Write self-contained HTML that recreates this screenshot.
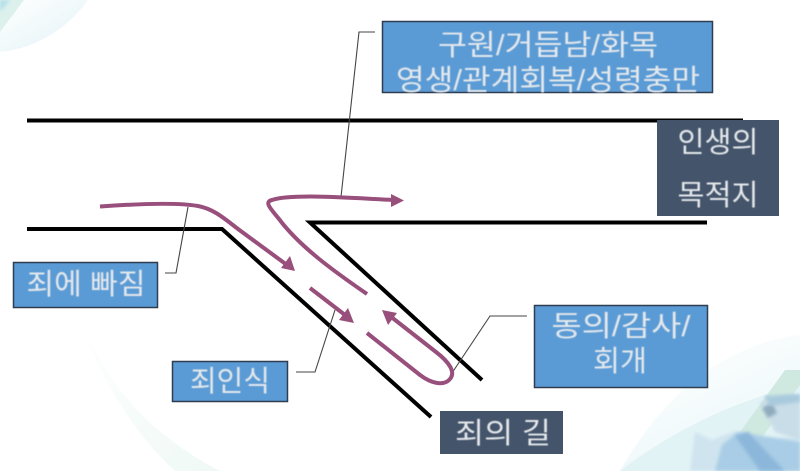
<!DOCTYPE html>
<html lang="ko">
<head>
<meta charset="utf-8">
<style>
html,body{margin:0;padding:0;background:#fff}
svg{display:block}
text{font-family:"Liberation Sans","Noto Sans CJK KR",sans-serif;fill:#e4e8ec;text-anchor:middle;dominant-baseline:central}
</style>
</head>
<body>
<svg width="800" height="471" viewBox="0 0 800 471" xmlns="http://www.w3.org/2000/svg">
<defs>
<linearGradient id="g1" x1="0" y1="0" x2="1" y2="1"><stop offset="0" stop-color="#ffffff"/><stop offset="1" stop-color="#e2f3f6"/></linearGradient>
<linearGradient id="g2" x1="0.2" y1="0" x2="0.8" y2="1"><stop offset="0" stop-color="#ffffff"/><stop offset="0.6" stop-color="#f2fafb"/><stop offset="1" stop-color="#cfeaee"/></linearGradient>
<linearGradient id="g3" x1="0" y1="0" x2="1" y2="1"><stop offset="0" stop-color="#ffffff"/><stop offset="1" stop-color="#e8f6f1"/></linearGradient>
<filter id="b2"><feGaussianBlur stdDeviation="1.500"/></filter>
<filter id="soft"><feGaussianBlur stdDeviation="0.45"/></filter>
</defs>
<rect width="800" height="471" fill="#fff"/>

<!-- background swooshes -->
<path d="M0 52C40 48 70 25 88 0H0Z" fill="url(#g1)"/>
<path d="M0 32L24 0H0Z" fill="#dcf0ec"/>
<path d="M0 12L10 0H0Z" fill="#b5e0ea" filter="url(#b2)"/>
<path d="M80 315C105 390 160 440 220 471H175C130 430 95 370 80 315Z" fill="url(#g3)" opacity=".7"/>
<path d="M620 471C660 400 720 345 800 335V471Z" fill="url(#g2)"/>
<path d="M620 471C680 425 740 400 800 385V471Z" fill="#e2f3f6"/>
<path d="M740 432L785 370H800V385L760 440Z" fill="#cfe8e0"/>
<path d="M690 471L695 432L712 440L735 431L760 440L800 436V471Z" fill="#cfe4ee" filter="url(#b2)"/>
<path d="M760 402L790 395L800 396V440L775 432Z" fill="#c9dde8" filter="url(#b2)"/>
<path d="M762 408L772 403L777 413L768 418Z" fill="#8fabbd" filter="url(#b2)"/>
<path d="M764 396L800 394V402L770 406Z" fill="#a9cadd" filter="url(#b2)"/>
<path d="M722 445L738 432L800 442V471H715Z" fill="#a9cde6" filter="url(#b2)"/>
<path d="M735 436L748 432L785 471H760Z" fill="#8db7da" filter="url(#b2)"/>

<!-- road lines -->
<g fill="none" stroke="#000" stroke-width="4" stroke-linejoin="miter">
<path d="M27 120.500H743"/>
<path d="M27 229H222L431 417"/>
<path d="M707 222.500H310L482 380"/>
</g>

<!-- leader lines -->
<g fill="none" stroke="#444" stroke-width="1.100">
<path d="M341 197L359 32H375"/>
<path d="M188 207L176 273H165"/>
<path d="M335 310L315 372H296"/>
<path d="M450 376L490 316H527"/>
</g>

<!-- boxes -->
<g stroke="#2f3d50" stroke-width="1.500" fill="#5b9bd5">
<rect x="382.500" y="21.500" width="330" height="71"/>
<rect x="13.500" y="262.500" width="144" height="45"/>
<rect x="172.500" y="361.500" width="115" height="40"/>
<rect x="534.500" y="305.500" width="173" height="82"/>
</g>
<rect x="657" y="120" width="122" height="96" fill="#44546a"/>
<rect x="440" y="411" width="123" height="43" fill="#44546a"/>

<!-- purple paths -->
<g fill="none" stroke="#984f7c" stroke-width="4" stroke-linecap="butt">
<path d="M100 206.500C135 204 175 202 198 206C214 209 225 219 238 229L287 265"/>
<path d="M367 294C335 272 300 247 279 219C270 208 264 202 272 200C290 194 340 197 393 200"/>
<path d="M310 288L345 315"/>
<path d="M390 316L436 352C449 362 456 372 450 379C444 386 432 384 420 375L367 333"/>
</g>
<g fill="#984f7c">
<path d="M295 271L281 268L290 256Z"/>
<path d="M404 200.500L391 194V207Z"/>
<path d="M354 323L339 320L348 308Z"/>
<path d="M382 310L397 313L388 325Z"/>
</g>

<!-- labels -->
<g filter="url(#soft)">
<text x="548" y="46" font-size="29" textLength="220" lengthAdjust="spacingAndGlyphs">구원/거듭남/화목</text>
<text x="548" y="81" font-size="29" textLength="304" lengthAdjust="spacingAndGlyphs">영생/관계회복/성령충만</text>
<text x="718" y="143" font-size="29" textLength="81" lengthAdjust="spacingAndGlyphs">인생의</text>
<text x="718" y="196" font-size="29" textLength="81" lengthAdjust="spacingAndGlyphs">목적지</text>
<text x="86" y="285" font-size="29" textLength="119" lengthAdjust="spacingAndGlyphs">죄에 빠짐</text>
<text x="230" y="382" font-size="29" textLength="80" lengthAdjust="spacingAndGlyphs">죄인식</text>
<text x="621" y="327" font-size="29" textLength="139" lengthAdjust="spacingAndGlyphs">동의/감사/</text>
<text x="620" y="362" font-size="29" textLength="54" lengthAdjust="spacingAndGlyphs">회개</text>
<text x="503" y="434" font-size="29" textLength="96" lengthAdjust="spacingAndGlyphs">죄의 길</text>
</g>
</svg>
</body>
</html>
